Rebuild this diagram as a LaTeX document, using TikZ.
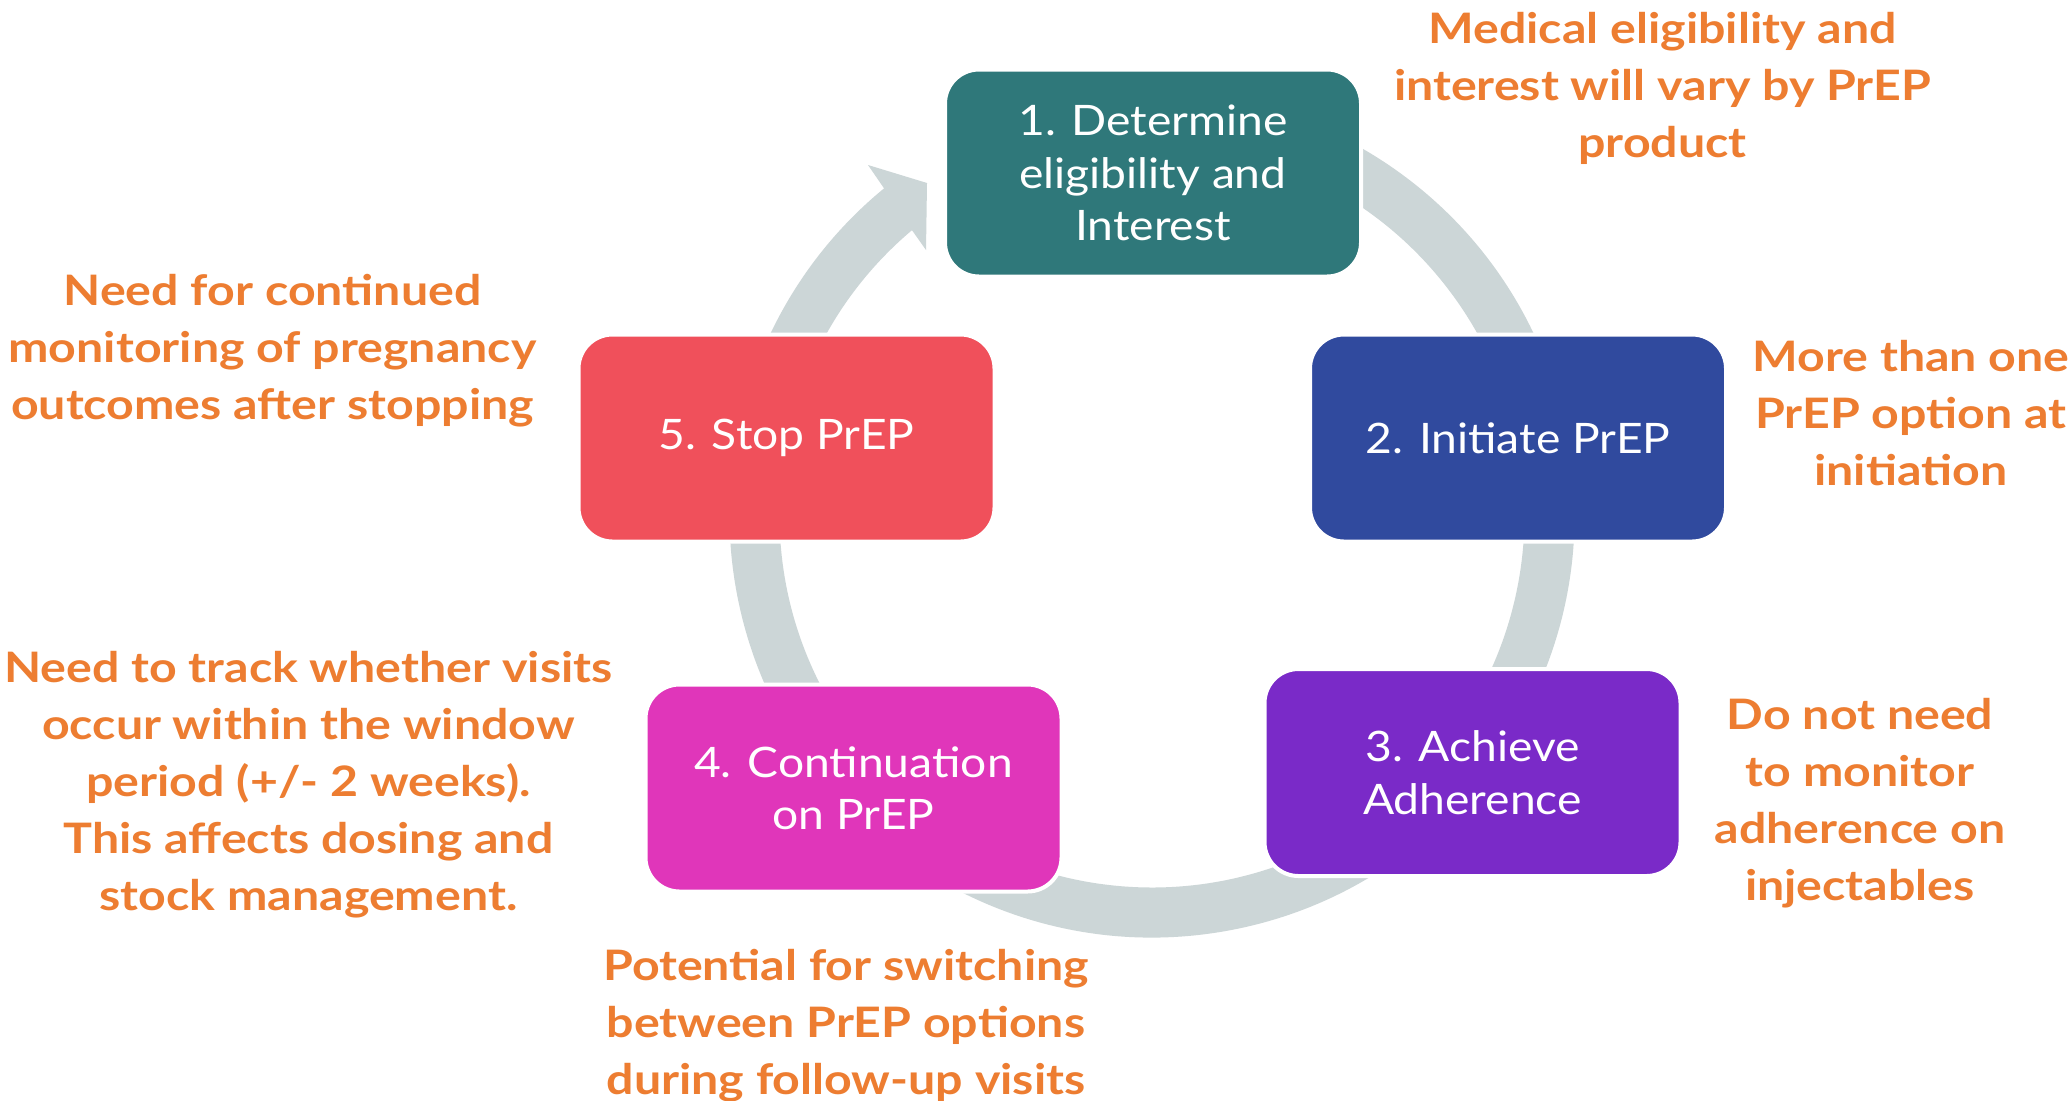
\documentclass[tikz,border=0pt]{standalone}
\usepackage{fontspec}
\setmainfont{Lato}
\newfontfamily\notefont{Lato}[FakeStretch=1.15]
\newfontfamily\boxfont{Lato}[FakeStretch=1.1]
\usetikzlibrary{calc}
\definecolor{tealbox}{HTML}{2F787A}
\definecolor{bluebox}{HTML}{304A9E}
\definecolor{purplebox}{HTML}{7A2AC8}
\definecolor{magentabox}{HTML}{E036BA}
\definecolor{redbox}{HTML}{F0505B}
\definecolor{ringgray}{HTML}{CCD6D7}
\definecolor{noteorange}{HTML}{ED7D31}
\tikzset{
  stepbox/.style={rectangle, rounded corners=17pt, minimum width=208pt, minimum height=103.5pt,
    draw=white, line width=2pt, text=white, align=center, inner sep=0pt,
    font=\boxfont\fontsize{21}{26.25}\selectfont},
  note/.style={text=noteorange, align=center, inner sep=0pt,
    font=\notefont\bfseries\fontsize{21}{28.5}\selectfont}
}
\begin{document}
\begin{tikzpicture}[x=0.5pt,y=-0.5pt]
\useasboundingbox (0,0) rectangle (2072,1100);
\fill[white] (0,0) rectangle (2072,1100);
\coordinate (C) at (1152,515);
\coordinate (w1) at (868,165);
\coordinate (tp1) at (927,183);
\coordinate (tp2) at (926,250);
\fill[ringgray] ($(C)+(-100:422.5)$) arc[start angle=-100, end angle=230.64, radius=422.5]
  -- (w1) -- (tp1) -- (tp2) -- ($(C)+(229.88:372.5)$)
  arc[start angle=229.88, end angle=-100, radius=372.5] -- cycle;

\node[stepbox, fill=tealbox] (s1) at (1153,173) {1. Determine\\eligibility and\\Interest};
\node[stepbox, fill=bluebox] (s2) at (1518,438) {2. Initiate PrEP};
\node[stepbox, fill=purplebox] (s3) at (1472.5,772.5) {3. Achieve\\Adherence};
\node[stepbox, fill=magentabox] (s4) at (853.5,788) {4. Continuation\\on PrEP};
\node[stepbox, fill=redbox] (s5) at (786.5,438) {5. Stop PrEP};

\node[note] (n1) at (1662.5,88.5) {Medical eligibility and\\interest will vary by PrEP\\product};
\node[note] (n2) at (1911,413.5) {More than one\\PrEP option at\\initiation};
\node[note] (n3) at (1860,803) {Do not need\\to monitor\\adherence on\\injectables};
\node[note] (n4) at (846,1025.5) {Potential for switching\\between PrEP options\\during follow-up visits};
\node[note] (n5) at (308.5,785) {Need to track whether visits\\occur within the window\\period (+/- 2 weeks).\\This affects dosing and\\stock management.};
\node[note] (n6) at (272.5,351) {Need for continued\\monitoring of pregnancy\\outcomes after stopping};
\end{tikzpicture}
\end{document}
